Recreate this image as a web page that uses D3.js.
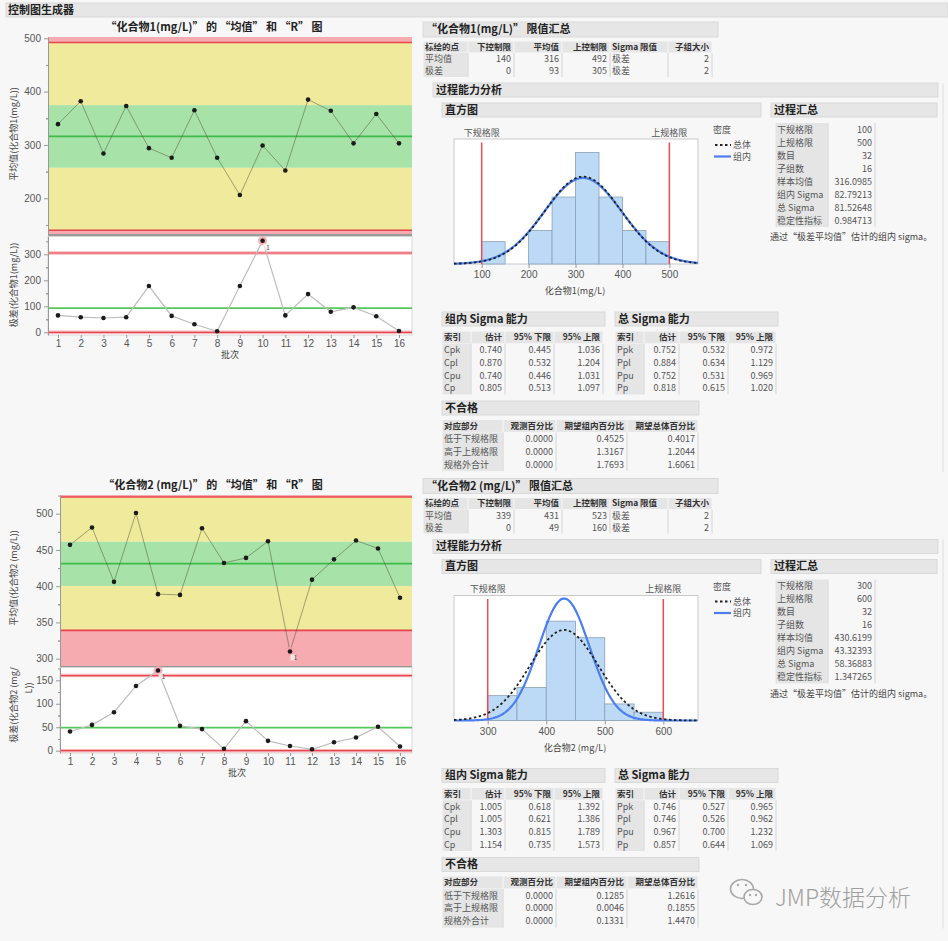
<!DOCTYPE html>
<html>
<head>
<meta charset="utf-8">
<script src="https://cdn.jsdelivr.net/npm/d3@7"></script>
<style>
  body { margin: 0; background: #f7f7f7; }
  svg { display: block; font-family: "Noto Sans CJK SC", "Noto Sans", sans-serif; }
  .tick text { fill: #555; font-size: 10px; }
  .tick line, .domain { stroke: #999; }
</style>
</head>
<body>
<svg id="chart" width="948" height="941"></svg>
<script>

// ---------------------------//
//       DATA                 //
// ---------------------------//

var batches = [1, 2, 3, 4, 5, 6, 7, 8, 9, 10, 11, 12, 13, 14, 15, 16];

var means1 = [339, 382, 284, 373, 294, 276, 365, 276, 206, 299, 252, 385, 364, 303, 358, 303];
var ranges1 = [65, 58, 55, 58, 178, 63, 31, 4, 178, 352, 65, 147, 79, 96, 62, 5];
var meanLimits1 = [140, 316, 492];     // LCL, CL, UCL
var rangeLimits1 = [0, 93, 305];

var means2 = [457, 481, 406, 501, 389, 388, 480, 432, 439, 462, 310, 409, 437, 463, 452, 384];
var ranges2 = [41, 55, 82, 138, 171, 53, 46, 4, 63, 21, 10, 3, 18, 28, 51, 9];
var meanLimits2 = [339, 431, 523];
var rangeLimits2 = [0, 49, 160];

// flagged points (test 1)
var meanFlags1 = [], rangeFlags1 = [10];
var meanFlags2 = [11], rangeFlags2 = [5];

var meanTicks1 = [200, 300, 400, 500];
var rangeTicks1 = [0, 100, 200, 300];
var meanTicks2 = [300, 350, 400, 450, 500];
var rangeTicks2 = [0, 50, 100, 150];

// histograms
var binEdges1 = [100, 150, 200, 250, 300, 350, 400, 450, 500];
var counts1 = [2, 0, 3, 6, 10, 6, 3, 2];
var specLimits1 = [100, 500];
var histTicks1 = [100, 200, 300, 400, 500];
var stats1 = [316.0985, 82.79213, 81.52648];   // mean, within sigma, overall sigma

var binEdges2 = [300, 350, 400, 450, 500, 550, 600];
var counts2 = [3, 4, 12, 10, 2, 1];
var specLimits2 = [300, 600];
var histTicks2 = [300, 400, 500, 600];
var stats2 = [430.6199, 43.32393, 58.36883];

// tables
var limitHeader = ["标绘的点", "下控制限", "平均值", "上控制限", "Sigma 限值", "子组大小"];
var limitRows1 = [["平均值", "140", "316", "492", "极差", "2"], ["极差", "0", "93", "305", "极差", "2"]];
var limitRows2 = [["平均值", "339", "431", "523", "极差", "2"], ["极差", "0", "49", "160", "极差", "2"]];

var summaryLabels = ["下规格限", "上规格限", "数目", "子组数", "样本均值", "组内 Sigma", "总 Sigma", "稳定性指标"];
var summaryValues1 = ["100", "500", "32", "16", "316.0985", "82.79213", "81.52648", "0.984713"];
var summaryValues2 = ["300", "600", "32", "16", "430.6199", "43.32393", "58.36883", "1.347265"];

var capHeader = ["索引", "估计", "95% 下限", "95% 上限"];
var withinCap1 = [["Cpk", "0.740", "0.445", "1.036"], ["Cpl", "0.870", "0.532", "1.204"],
                  ["Cpu", "0.740", "0.446", "1.031"], ["Cp", "0.805", "0.513", "1.097"]];
var overallCap1 = [["Ppk", "0.752", "0.532", "0.972"], ["Ppl", "0.884", "0.634", "1.129"],
                   ["Ppu", "0.752", "0.531", "0.969"], ["Pp", "0.818", "0.615", "1.020"]];
var withinCap2 = [["Cpk", "1.005", "0.618", "1.392"], ["Cpl", "1.005", "0.621", "1.386"],
                  ["Cpu", "1.303", "0.815", "1.789"], ["Cp", "1.154", "0.735", "1.573"]];
var overallCap2 = [["Ppk", "0.746", "0.527", "0.965"], ["Ppl", "0.746", "0.526", "0.962"],
                   ["Ppu", "0.967", "0.700", "1.232"], ["Pp", "0.857", "0.644", "1.069"]];

var ncHeader = ["对应部分", "观测百分比", "期望组内百分比", "期望总体百分比"];
var ncRows1 = [["低于下规格限", "0.0000", "0.4525", "0.4017"], ["高于上规格限", "0.0000", "1.3167", "1.2044"],
               ["规格外合计", "0.0000", "1.7693", "1.6061"]];
var ncRows2 = [["低于下规格限", "0.0000", "0.1285", "1.2616"], ["高于上规格限", "0.0000", "0.0046", "0.1855"],
               ["规格外合计", "0.0000", "0.1331", "1.4470"]];

var svg = d3.select("#chart");

var RED = "#e8444f", PINK = "#f6abb1", YELLOW = "#efea9c", GREEN_ZONE = "#a7e2a8", GREEN = "#3cbc48";

// ---------------------------//
//       HELPERS              //
// ---------------------------//

function header(x, y, w, h, text) {
  svg.append("rect")
    .attr("x", x).attr("y", y).attr("width", w).attr("height", h)
    .attr("fill", "#e6e6e6").attr("stroke", "#d9d9d9");
  svg.append("text")
    .attr("x", x + 3).attr("y", y + h / 2).attr("dy", "0.36em")
    .attr("font-size", 11).attr("font-weight", "bold").attr("fill", "#222")
    .text(text);
}

// cols: [left, right, align]
function drawTable(y0, cols, head, rows, rowH) {
  var g = svg.append("g");
  var bodyTop = head ? y0 + rowH : y0;
  if (head) {
    cols.forEach(function(c) {
      g.append("rect").attr("x", c[0] + 0.5).attr("y", y0 + 0.5)
        .attr("width", c[1] - c[0] - 1).attr("height", rowH - 1).attr("fill", "#e5e5e5");
    });
  }
  g.append("rect").attr("x", cols[0][0] + 0.5).attr("y", bodyTop)
    .attr("width", cols[0][1] - cols[0][0] - 1).attr("height", rows.length * rowH)
    .attr("fill", "#e5e5e5");
  cols.forEach(function(c) {
    g.append("line").attr("x1", c[1]).attr("x2", c[1])
      .attr("y1", bodyTop).attr("y2", bodyTop + rows.length * rowH)
      .attr("stroke", "#d4d4d4");
  });
  var all = head ? [head].concat(rows) : rows;
  all.forEach(function(row, i) {
    var isHead = head && i == 0;
    cols.forEach(function(c, j) {
      g.append("text")
        .attr("x", c[2] == "s" ? c[0] + 2 : c[1] - 3)
        .attr("y", y0 + i * rowH + rowH / 2).attr("dy", "0.35em")
        .attr("text-anchor", c[2] == "s" ? "start" : "end")
        .attr("font-size", isHead ? 8.5 : 9)
        .attr("font-weight", isHead ? "bold" : "normal")
        .attr("fill", isHead ? "#333" : "#555")
        .text(row[j]);
    });
  });
}

function minorTicks(ticks) {
  var step = ticks[1] - ticks[0], out = [];
  ticks.forEach(function(t) { out.push(t - step / 2); out.push(t + step / 2); });
  return out;
}

// ---------------------------//
//       CONTROL CHARTS       //
// ---------------------------//

function controlChart(c) {
  var g = svg.append("g");
  var x = d3.scaleLinear().domain([1, 16]).range([c.x1, c.x16]);
  var ym = d3.scaleLinear().domain(c.meanDomain).range([c.meanBottom, c.meanTop]);
  var yr = d3.scaleLinear().domain(c.rangeDomain).range([c.rangeBottom, c.rangeTop]);

  var lcl = c.meanLimits[0], cl = c.meanLimits[1], ucl = c.meanLimits[2];
  var sig = (ucl - cl) / 3;
  var zones = [
    [c.meanDomain[0], lcl, PINK],
    [lcl, cl - sig, YELLOW],
    [cl - sig, cl + sig, GREEN_ZONE],
    [cl + sig, ucl, YELLOW],
    [ucl, c.meanDomain[1], PINK]
  ];

  // title
  g.append("text")
    .attr("x", c.titleX).attr("y", c.titleY).attr("dy", "0.36em")
    .attr("text-anchor", "middle").attr("font-size", 11).attr("font-weight", "bold").attr("fill", "#222")
    .text(c.title);

  // zones
  g.selectAll(".zone").data(zones).enter().append("rect")
    .attr("x", c.left).attr("width", c.right - c.left)
    .attr("y", function(d) { return ym(d[1]); })
    .attr("height", function(d) { return ym(d[0]) - ym(d[1]); })
    .attr("fill", function(d) { return d[2]; });

  // limit lines (mean)
  g.selectAll(".mlim").data([lcl, ucl]).enter().append("line")
    .attr("x1", c.left).attr("x2", c.right)
    .attr("y1", function(d) { return ym(d); }).attr("y2", function(d) { return ym(d); })
    .attr("stroke", RED).attr("stroke-width", 1.6);
  g.append("line")
    .attr("x1", c.left).attr("x2", c.right).attr("y1", ym(cl)).attr("y2", ym(cl))
    .attr("stroke", GREEN).attr("stroke-width", 1.8);

  // separator
  g.append("rect")
    .attr("x", c.left).attr("width", c.right - c.left)
    .attr("y", c.meanBottom).attr("height", c.rangeTop - c.meanBottom)
    .attr("fill", "#9a9a9a");

  // range plot background
  g.append("rect")
    .attr("x", c.left).attr("width", c.right - c.left)
    .attr("y", c.rangeTop).attr("height", c.rangeBottom - c.rangeTop)
    .attr("fill", "#fff").attr("stroke", "#cfcfcf").attr("stroke-width", 0.8);

  g.selectAll(".rhalo").data([c.rangeLimits[0], c.rangeLimits[2]]).enter().append("line")
    .attr("x1", c.left).attr("x2", c.right)
    .attr("y1", function(d) { return yr(d); }).attr("y2", function(d) { return yr(d); })
    .attr("stroke", "#f7b9be").attr("stroke-width", 3.5);
  g.selectAll(".rlim").data([c.rangeLimits[0], c.rangeLimits[2]]).enter().append("line")
    .attr("x1", c.left).attr("x2", c.right)
    .attr("y1", function(d) { return yr(d); }).attr("y2", function(d) { return yr(d); })
    .attr("stroke", RED).attr("stroke-width", 1.2);
  g.append("line")
    .attr("x1", c.left).attr("x2", c.right)
    .attr("y1", yr(c.rangeLimits[1])).attr("y2", yr(c.rangeLimits[1]))
    .attr("stroke", "#55c85a").attr("stroke-width", 1.8);

  // connecting lines
  g.append("path").datum(c.means)
    .attr("fill", "none").attr("stroke", "#4d4d3a").attr("stroke-opacity", 0.55).attr("stroke-width", 0.9)
    .attr("d", d3.line().x(function(d, i) { return x(batches[i]); }).y(function(d) { return ym(d); }));
  g.append("path").datum(c.ranges)
    .attr("fill", "none").attr("stroke", "#bdbdbd").attr("stroke-width", 1.2)
    .attr("d", d3.line().x(function(d, i) { return x(batches[i]); }).y(function(d) { return yr(d); }));

  // flagged points
  function flag(list, values, yScale) {
    list.forEach(function(b) {
      var px = x(b), py = yScale(values[b - 1]);
      g.append("circle").attr("cx", px).attr("cy", py).attr("r", 4.5)
        .attr("fill", "#f5a3aa").attr("fill-opacity", 0.85);
      g.append("rect").attr("x", px + 0.5).attr("y", py + 3).attr("width", 5).attr("height", 6)
        .attr("fill", "#fdf0f1").attr("fill-opacity", 0.8);
      g.append("text").attr("x", px + 3.5).attr("y", py + 9)
        .attr("font-size", 7).attr("fill", "#555").text("1");
    });
  }
  flag(c.meanFlags, c.means, ym);
  flag(c.rangeFlags, c.ranges, yr);

  // dots
  g.selectAll(".mdot").data(c.means).enter().append("circle")
    .attr("cx", function(d, i) { return x(batches[i]); })
    .attr("cy", function(d) { return ym(d); })
    .attr("r", 2.3).attr("fill", "#1b1b1b");
  g.selectAll(".rdot").data(c.ranges).enter().append("circle")
    .attr("cx", function(d, i) { return x(batches[i]); })
    .attr("cy", function(d) { return yr(d); })
    .attr("r", 2.3).attr("fill", "#1b1b1b");

  // axes
  g.append("g").attr("transform", "translate(" + c.left + ",0)")
    .call(d3.axisLeft(ym).tickValues(c.meanTicks).tickSize(4).tickSizeOuter(0).tickPadding(3));
  g.append("g").attr("transform", "translate(" + c.left + ",0)")
    .call(d3.axisLeft(ym).tickValues(minorTicks(c.meanTicks).filter(function(v) {
      return v > c.meanDomain[0] && v < c.meanDomain[1]; })).tickSize(2).tickSizeOuter(0).tickFormat(""))
    .select(".domain").remove();
  g.append("g").attr("transform", "translate(" + c.left + ",0)")
    .call(d3.axisLeft(yr).tickValues(c.rangeTicks).tickSize(4).tickSizeOuter(0).tickPadding(3));
  g.append("g").attr("transform", "translate(" + c.left + ",0)")
    .call(d3.axisLeft(yr).tickValues(minorTicks(c.rangeTicks).filter(function(v) {
      return v > c.rangeDomain[0] && v < c.rangeDomain[1]; })).tickSize(2).tickSizeOuter(0).tickFormat(""))
    .select(".domain").remove();
  g.append("g").attr("transform", "translate(0," + c.rangeBottom + ")")
    .call(d3.axisBottom(x).tickValues(batches).tickSize(3).tickSizeOuter(0).tickPadding(2))
    .select(".domain").remove();

  // axis labels
  g.append("text")
    .attr("x", c.xLabelX).attr("y", c.xLabelY).attr("dy", "0.36em")
    .attr("text-anchor", "middle").attr("font-size", 9).attr("fill", "#444").text("批次");
  c.yLabels.forEach(function(l) {
    g.append("text")
      .attr("transform", "translate(" + l[0] + "," + l[1] + ") rotate(-90)")
      .attr("dy", "0.36em").attr("text-anchor", "middle")
      .attr("font-size", 9).attr("fill", "#444").text(l[2]);
  });
}

// ---------------------------//
//       HISTOGRAMS           //
// ---------------------------//

function histogram(h) {
  var g = svg.append("g");
  var fx = 454, fy = 139 + h.dy, fw = 244, fh = 125;
  var x = d3.scaleLinear().domain(h.xDomain).range([fx, fx + fw]);
  var y = d3.scaleLinear().domain([0, h.yMax]).range([fy + fh, fy]);

  g.append("rect").attr("x", fx).attr("y", fy).attr("width", fw).attr("height", fh)
    .attr("fill", "#fff").attr("stroke", "#c9c9c9");

  g.selectAll(".bar").data(h.counts).enter().append("rect")
    .attr("x", function(d, i) { return x(h.edges[i]); })
    .attr("width", function(d, i) { return x(h.edges[i + 1]) - x(h.edges[i]); })
    .attr("y", function(d) { return y(d); })
    .attr("height", function(d) { return y(0) - y(d); })
    .attr("fill", "#bcdaf6").attr("stroke", "#8aa0b6").attr("stroke-width", 0.8)
    .style("display", function(d) { return d > 0 ? null : "none"; });

  g.selectAll(".spec").data(h.spec).enter().append("line")
    .attr("x1", function(d) { return x(d); }).attr("x2", function(d) { return x(d); })
    .attr("y1", fy + 3.5).attr("y2", fy + fh)
    .attr("stroke", "#ef4a55").attr("stroke-width", 1.5);

  // fitted normal curves (mean / sigma from the process summary)
  var n = d3.sum(h.counts), w = h.edges[1] - h.edges[0];
  function normal(sigma) {
    return d3.range(h.xDomain[0], h.xDomain[1] + 1, 2).map(function(v) {
      return [v, n * w / (sigma * Math.sqrt(2 * Math.PI)) * Math.exp(-Math.pow(v - h.stats[0], 2) / (2 * sigma * sigma))];
    });
  }
  var curve = d3.line().x(function(d) { return x(d[0]); }).y(function(d) { return y(d[1]); });
  g.append("path").datum(normal(h.stats[1]))
    .attr("fill", "none").attr("stroke", "#4a7ef2").attr("stroke-width", 2.2).attr("d", curve);
  g.append("path").datum(normal(h.stats[2]))
    .attr("fill", "none").attr("stroke", "#222").attr("stroke-width", 1.8)
    .attr("stroke-dasharray", "2.5,2.5").attr("d", curve);

  g.append("g").attr("transform", "translate(0," + (fy + fh) + ")")
    .call(d3.axisBottom(x).tickValues(h.ticks).tickSize(4).tickSizeOuter(0).tickPadding(3))
    .select(".domain").remove();

  g.append("text").attr("x", 575).attr("y", fy + fh + 27).attr("dy", "0.36em")
    .attr("text-anchor", "middle").attr("font-size", 9).attr("fill", "#444").text(h.title);

  // spec labels
  g.selectAll(".slab").data(h.spec).enter().append("text")
    .attr("x", function(d) { return x(d); }).attr("y", fy - 6.5).attr("dy", "0.36em")
    .attr("text-anchor", "middle").attr("font-size", 9).attr("fill", "#555")
    .text(function(d, i) { return i == 0 ? "下规格限" : "上规格限"; });

  // legend
  g.append("text").attr("x", 713).attr("y", fy - 9).attr("dy", "0.36em")
    .attr("font-size", 9).attr("fill", "#555").text("密度");
  g.append("line").attr("x1", 715).attr("x2", 731).attr("y1", fy + 6).attr("y2", fy + 6)
    .attr("stroke", "#222").attr("stroke-width", 1.8).attr("stroke-dasharray", "2.5,2.5");
  g.append("text").attr("x", 733).attr("y", fy + 6).attr("dy", "0.36em")
    .attr("font-size", 9).attr("fill", "#555").text("总体");
  g.append("line").attr("x1", 714).attr("x2", 731).attr("y1", fy + 17.5).attr("y2", fy + 17.5)
    .attr("stroke", "#4a7ef2").attr("stroke-width", 2.2);
  g.append("text").attr("x", 733).attr("y", fy + 17.5).attr("dy", "0.36em")
    .attr("font-size", 9).attr("fill", "#555").text("组内");
}

// ---------------------------//
//       RIGHT PANELS         //
// ---------------------------//

function rightBlock(dy, name, limitRows, hist, summaryValues, withinCap, overallCap, ncRows) {
  header(423, 22 + dy, 295, 15, "“" + name + "” 限值汇总");
  drawTable(41 + dy, [[423, 468, "s"], [468, 514, "e"], [514, 562, "e"], [562, 610, "e"], [610, 668, "s"], [668, 712, "e"]],
    limitHeader, limitRows, 12);

  header(433, 83 + dy, 505, 14, "过程能力分析");
  svg.append("line").attr("x1", 943).attr("x2", 943).attr("y1", 83 + dy).attr("y2", 472 + dy)
    .attr("stroke", "#dedede");
  header(442, 103 + dy, 319, 14, "直方图");
  header(771, 103 + dy, 166, 14, "过程汇总");

  histogram(hist);

  var summaryRows = summaryLabels.map(function(l, i) { return [l, summaryValues[i]]; });
  drawTable(123 + dy, [[775, 828, "s"], [828, 875, "e"]], null, summaryRows, 13);
  svg.append("text").attr("x", 770).attr("y", 237 + dy).attr("dy", "0.36em")
    .attr("font-size", 9).attr("fill", "#444").text("通过“极差平均值”估计的组内 sigma。");

  header(442, 312 + dy, 163, 14, "组内 Sigma 能力");
  header(615, 312 + dy, 163, 14, "总 Sigma 能力");
  drawTable(331 + dy, [[442, 471, "s"], [471, 505, "e"], [505, 554, "e"], [554, 603, "e"]], capHeader, withinCap, 12.7);
  drawTable(331 + dy, [[615, 644, "s"], [644, 679, "e"], [679, 728, "e"], [728, 776, "e"]], capHeader, overallCap, 12.7);

  header(442, 401 + dy, 257, 14, "不合格");
  drawTable(419.5 + dy, [[442, 503, "s"], [503, 556, "e"], [556, 627, "e"], [627, 698, "e"]], ncHeader, ncRows, 12.9);
}

// ---------------------------//
//       DRAW                 //
// ---------------------------//

svg.append("rect").attr("x", 6).attr("y", 3).attr("width", 942).attr("height", 14)
  .attr("fill", "#e6e6e6").attr("stroke", "#d9d9d9");
svg.append("text").attr("x", 8).attr("y", 10).attr("dy", "0.36em")
  .attr("font-size", 11).attr("font-weight", "bold").attr("fill", "#222").text("控制图生成器");

controlChart({
  title: "“化合物1(mg/L)” 的 “均值” 和 “R” 图", titleX: 214, titleY: 27,
  left: 48, right: 412, x1: 58, x16: 399,
  meanTop: 37, meanBottom: 234, meanDomain: [133, 502.4],
  rangeTop: 236.5, rangeBottom: 335, rangeDomain: [-10.4, 368.5],
  means: means1, ranges: ranges1, meanLimits: meanLimits1, rangeLimits: rangeLimits1,
  meanTicks: meanTicks1, rangeTicks: rangeTicks1,
  meanFlags: meanFlags1, rangeFlags: rangeFlags1,
  xLabelX: 230, xLabelY: 355,
  yLabels: [[14, 134, "平均值(化合物1(mg/L))"], [14, 285, "极差(化合物1(mg/L))"]]
});

controlChart({
  title: "“化合物2 (mg/L)” 的 “均值” 和 “R” 图", titleX: 213, titleY: 485,
  left: 60, right: 412, x1: 70, x16: 400,
  meanTop: 495, meanBottom: 666, meanDomain: [289.9, 525.8],
  rangeTop: 667.5, rangeBottom: 753, rangeDomain: [-4.9, 177.3],
  means: means2, ranges: ranges2, meanLimits: meanLimits2, rangeLimits: rangeLimits2,
  meanTicks: meanTicks2, rangeTicks: rangeTicks2,
  meanFlags: meanFlags2, rangeFlags: rangeFlags2,
  xLabelX: 237, xLabelY: 773,
  yLabels: [[14, 578, "平均值(化合物2 (mg/L))"], [14, 705, "极差(化合物2 (mg/"], [29, 688, "L))"]]
});

rightBlock(0, "化合物1(mg/L)", limitRows1,
  { dy: 0, xDomain: [41, 561], yMax: 11.2, edges: binEdges1, counts: counts1, spec: specLimits1,
    stats: stats1, ticks: histTicks1, title: "化合物1(mg/L)" },
  summaryValues1, withinCap1, overallCap1, ncRows1);

rightBlock(456.5, "化合物2 (mg/L)", limitRows2,
  { dy: 456.5, xDomain: [242.4, 659.3], yMax: 15.1, edges: binEdges2, counts: counts2, spec: specLimits2,
    stats: stats2, ticks: histTicks2, title: "化合物2 (mg/L)" },
  summaryValues2, withinCap2, overallCap2, ncRows2);

// ---------------------------//
//       WATERMARK            //
// ---------------------------//

var wm = svg.append("g").attr("fill", "#f7f7f7").attr("stroke", "#a8a8a8").attr("stroke-width", 1.6);
wm.append("ellipse").attr("cx", 742).attr("cy", 889).attr("rx", 11.5).attr("ry", 9.5);
wm.append("ellipse").attr("cx", 753).attr("cy", 897).attr("rx", 9).attr("ry", 7.5);
[[738, 885], [746, 885], [750, 895], [756, 895]].forEach(function(p) {
  svg.append("circle").attr("cx", p[0]).attr("cy", p[1]).attr("r", 1.2).attr("fill", "#a8a8a8");
});
svg.append("text").attr("x", 775).attr("y", 898).attr("dy", "0.36em")
  .attr("font-size", 23).attr("font-weight", 300).attr("fill", "#a0a0a0").text("JMP数据分析");

</script>
</body>
</html>
